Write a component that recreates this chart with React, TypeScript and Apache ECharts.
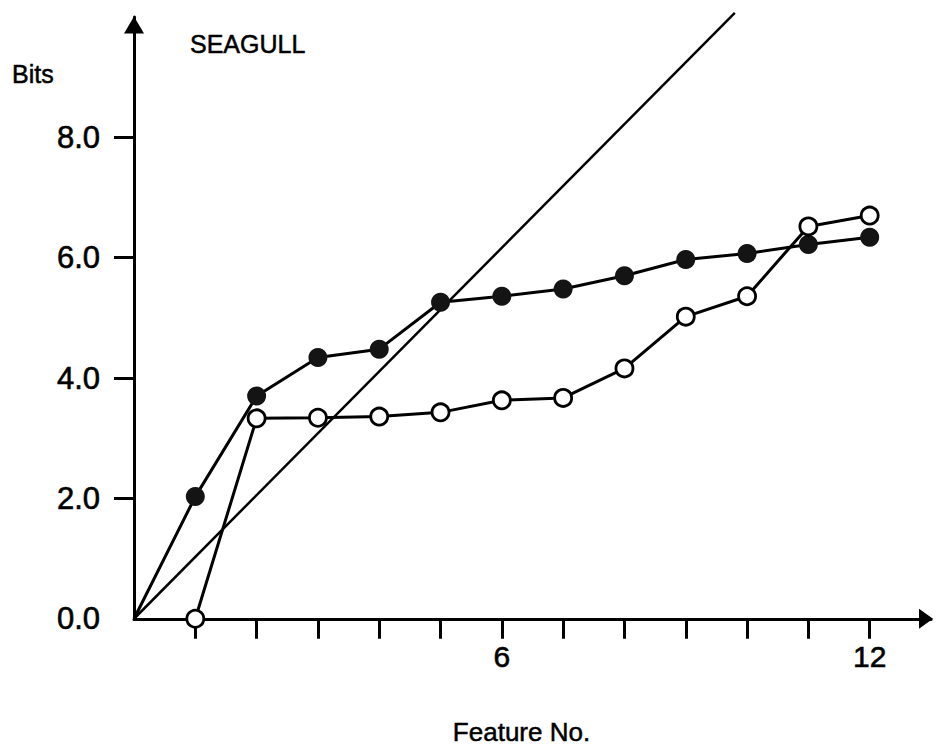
import React, { useEffect, useRef } from "react";
import * as echarts from "echarts";

// ---- data ----
const origin = [0, 0];
const features = [1, 2, 3, 4, 5, 6, 7, 8, 9, 10, 11, 12];
const filledBits = [2.03, 3.7, 4.34, 4.48, 5.26, 5.36, 5.48, 5.7, 5.97, 6.07, 6.22, 6.34];
const openBits = [0.0, 3.33, 3.34, 3.36, 3.43, 3.63, 3.67, 4.16, 5.02, 5.36, 6.52, 6.7];
const diagonalX = [0, 9.8];
const diagonalY = [0, 10.07];
const xTickValues = [1, 2, 3, 4, 5, 6, 7, 8, 9, 10, 11, 12];
const xLabelValues = [6, 12];
const yTickValues = [2, 4, 6, 8];
const yLabelValues = [0, 2, 4, 6, 8];
const titleText = "SEAGULL";
const yAxisTitle = "Bits";
const xAxisTitle = "Feature No.";

const FONT = '"Liberation Sans", Arial, Helvetica, sans-serif';
const INK = "#000000";

export default function App() {
  const ref = useRef<HTMLDivElement | null>(null);

  useEffect(() => {
    if (!ref.current) return;
    const chart = echarts.init(ref.current, undefined, { renderer: "svg" });

    const originItem = { value: origin, symbol: "none" };
    const filledData = [originItem, ...features.map((f, i) => [f, filledBits[i]])];
    const openData = features.map((f, i) => [f, openBits[i]]);
    const diagData = diagonalX.map((x, i) => [x, diagonalY[i]]);

    const labelInk = { color: INK, textBorderColor: INK, textBorderWidth: 0.6 };

    chart.setOption({
      animation: false,
      backgroundColor: "#ffffff",
      textStyle: { fontFamily: FONT, color: INK },
      grid: { left: 134, right: 5, top: 17, bottom: 123, containLabel: false },
      graphic: [
        {
          type: "text",
          x: 12,
          y: 74,
          style: {
            text: yAxisTitle,
            font: `25px ${FONT}`,
            fill: INK,
            stroke: INK,
            lineWidth: 0.5,
            textAlign: "left",
            textVerticalAlign: "middle",
          },
        },
        {
          type: "text",
          x: 190,
          y: 44,
          style: {
            text: titleText,
            font: `25px ${FONT}`,
            fill: INK,
            stroke: INK,
            lineWidth: 0.5,
            textAlign: "left",
            textVerticalAlign: "middle",
          },
        },
      ],
      xAxis: {
        type: "value",
        min: 0,
        max: 13,
        interval: 1,
        name: xAxisTitle,
        nameLocation: "middle",
        nameGap: 100,
        nameTextStyle: {
          fontFamily: FONT,
          fontSize: 26,
          padding: [0, 22, 0, 0],
          ...labelInk,
          textBorderWidth: 0.5,
        },
        splitLine: { show: false },
        axisLine: {
          show: true,
          lineStyle: { color: INK, width: 3 },
          symbol: ["none", "triangle"],
          symbolSize: [20, 14],
          symbolOffset: [0, -5],
        },
        axisTick: {
          show: true,
          length: 20,
          lineStyle: { color: INK, width: 3 },
          customValues: xTickValues,
        },
        axisLabel: {
          show: true,
          margin: 23,
          fontFamily: FONT,
          fontSize: 30,
          ...labelInk,
          customValues: xLabelValues,
          formatter: (v: number) => String(v),
        },
      },
      yAxis: {
        type: "value",
        min: 0,
        max: 10,
        interval: 2,
        splitLine: { show: false },
        axisLine: {
          show: true,
          lineStyle: { color: INK, width: 3 },
          symbol: ["none", "triangle"],
          symbolSize: [20, 17],
          symbolOffset: [0, -8],
        },
        axisTick: {
          show: true,
          length: 20,
          lineStyle: { color: INK, width: 3 },
          customValues: yTickValues,
        },
        axisLabel: {
          show: true,
          margin: 34,
          fontFamily: FONT,
          fontSize: 31,
          ...labelInk,
          customValues: yLabelValues,
          formatter: (v: number) => v.toFixed(1),
        },
      },
      series: [
        {
          name: "Diagonal",
          type: "line",
          data: diagData,
          showSymbol: false,
          symbol: "none",
          clip: false,
          lineStyle: { color: INK, width: 2.5 },
          z: 1,
        },
        {
          name: "Filled",
          type: "line",
          data: filledData,
          symbol: "circle",
          symbolSize: 19,
          showSymbol: true,
          clip: false,
          itemStyle: { color: "#141414" },
          lineStyle: { color: INK, width: 3 },
          z: 2,
        },
        {
          name: "Open",
          type: "line",
          data: openData,
          symbol: "circle",
          symbolSize: 17,
          showSymbol: true,
          clip: false,
          itemStyle: { color: "#ffffff", borderColor: INK, borderWidth: 2.8 },
          lineStyle: { color: INK, width: 3 },
          z: 3,
        },
      ],
    });

    return () => {
      chart.dispose();
    };
  }, []);

  return (
    <div
      ref={ref}
      style={{
        position: "fixed",
        left: 0,
        top: 0,
        width: 936,
        height: 750,
        background: "#ffffff",
      }}
    />
  );
}
